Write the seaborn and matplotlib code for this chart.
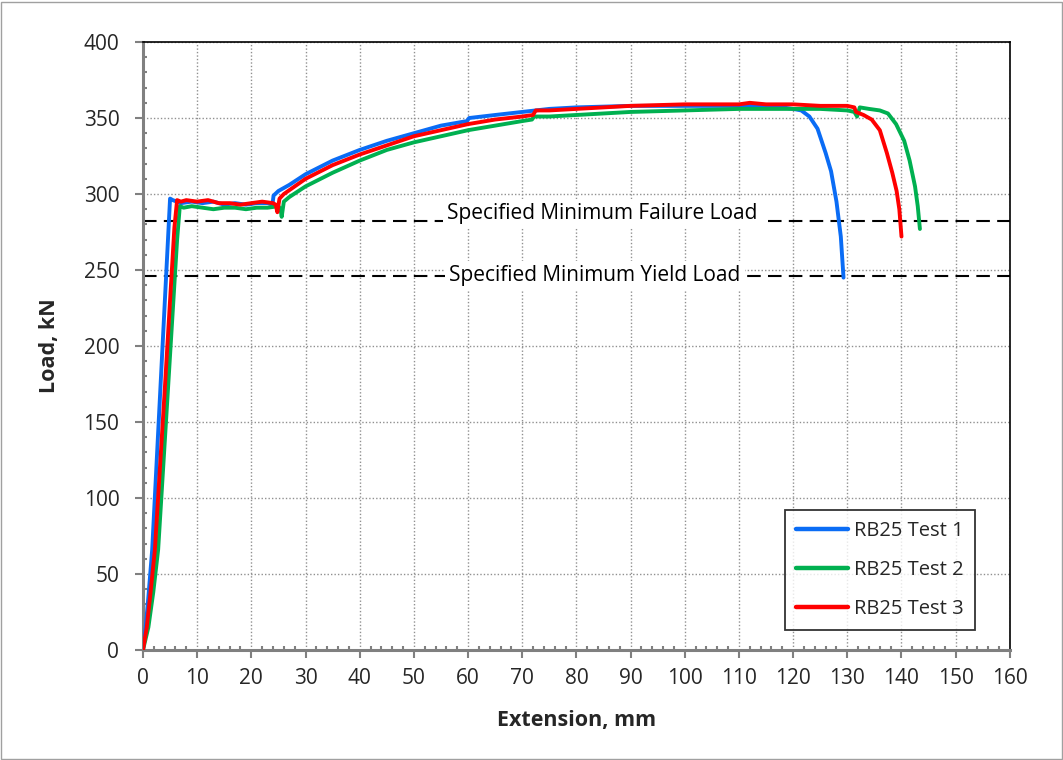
import numpy as np
import pandas as pd
import matplotlib
matplotlib.use("Agg")
import matplotlib.pyplot as plt
import seaborn as sns
from matplotlib.ticker import MultipleLocator
from matplotlib.patches import Rectangle

# ---------------- data ----------------
series_names = ["RB25 Test 1", "RB25 Test 2", "RB25 Test 3"]

t1_x = [0, 0.5, 1, 1.7, 3, 4.5, 5.0, 5.5, 7, 9, 11, 13, 15, 17, 19, 21, 23, 23.9, 24.1, 25, 27, 30, 35, 40,
        45, 50, 55, 59.8, 60.2, 65, 70, 75, 80, 90, 100, 110, 115, 118, 120, 121.5, 123, 124.5, 126, 127,
        128, 128.8, 129.3]
t1_y = [0, 15, 35, 66, 157, 262, 297, 296, 294, 295, 294, 295, 293, 294, 293, 294, 294, 293, 299, 302, 306,
        313, 322, 329, 335, 340, 345, 348, 350, 352, 354, 356, 357, 358, 358, 358, 358, 357, 356, 355, 351,
        343, 327, 315, 295, 272, 245]

t2_x = [0, 1, 1.9, 2.8, 4.5, 6.3, 6.8, 7.5, 9, 11, 13, 15, 17, 19, 21, 23, 25, 25.4, 25.6, 26, 27, 30, 35,
        40, 45, 50, 55, 60, 65, 70, 71.8, 72.2, 75, 80, 90, 100, 110, 120, 125, 130, 131.3, 131.8, 132.3,
        134, 136, 137.5, 139, 140.5, 141.5, 142.5, 143, 143.4]
t2_y = [0, 15, 38, 66, 165, 270, 292, 291, 292, 291, 290, 291, 291, 290, 291, 291, 292, 290, 285, 295, 298,
        305, 314, 322, 329, 334, 338, 342, 345, 348, 349, 351, 351, 352, 354, 355, 356, 356, 356, 355, 354,
        351, 357, 356, 355, 353, 346, 335, 322, 305, 292, 277]

t3_x = [0, 0.7, 1.4, 2.2, 4, 5.8, 6.3, 7, 8, 10, 12, 14, 16, 18, 20, 22, 24, 24.5, 24.8, 25.2, 26, 28, 30,
        35, 40, 45, 50, 55, 60, 65, 70, 72, 72.5, 75, 80, 90, 100, 110, 112, 115, 120, 125, 130, 131.3,
        131.6, 133, 134.5, 136, 137.3, 138.3, 139.1, 139.6, 140]
t3_y = [0, 15, 38, 66, 170, 278, 296, 295, 296, 295, 296, 294, 294, 293, 294, 295, 294, 293, 288, 297, 300,
        305, 310, 319, 326, 332, 338, 342, 346, 349, 351, 352, 355, 355, 356, 358, 359, 359, 360, 359, 359,
        358, 358, 357, 354, 352, 349, 342, 327, 314, 302, 290, 272]

failure_load = 282
yield_load = 246
ref_labels = ["Specified Minimum Failure Load", "Specified Minimum Yield Load"]

colors = ["#0A6CF5", "#00B050", "#FF0000"]

# ---------------- build long-form frame ----------------
frames = []
for name, xs, ys in zip(series_names, [t1_x, t2_x, t3_x], [t1_y, t2_y, t3_y]):
    frames.append(pd.DataFrame({"Extension": xs, "Load": ys, "Series": name}))
df = pd.concat(frames, ignore_index=True)

sns.set_theme(style="white")
plt.rcParams["font.family"] = ["Open Sans", "DejaVu Sans"]

fig = plt.figure(figsize=(10.63, 7.6), dpi=100)
ax = fig.add_axes([0.1345, 0.1447, 0.8155, 0.8000])

# outer chart border
fig.patches.append(Rectangle((0.001, 0.001), 0.998, 0.997, transform=fig.transFigure,
                             fill=False, edgecolor="#A0A0A0", linewidth=1.0))

# reference lines
ax.axhline(failure_load, color="black", lw=1.5, ls=(0, (6.5, 3.5)), zorder=2)
ax.axhline(yield_load, color="black", lw=1.5, ls=(0, (6.5, 3.5)), zorder=2)

sns.lineplot(data=df, x="Extension", y="Load", hue="Series", palette=colors, sort=False,
             estimator=None, units="Series", lw=2.8, ax=ax, zorder=5)

ax.text(84.7, 287.0, ref_labels[0], ha="center", va="center", fontsize=15, color="black",
        bbox=dict(facecolor="white", edgecolor="none", pad=3), zorder=3)
ax.text(83.4, 246.5, ref_labels[1], ha="center", va="center", fontsize=15, color="black",
        bbox=dict(facecolor="white", edgecolor="none", pad=3), zorder=3)

ax.set_xlim(0, 160)
ax.set_ylim(0, 400)
ax.xaxis.set_major_locator(MultipleLocator(10))
ax.xaxis.set_minor_locator(MultipleLocator(2))
ax.yaxis.set_major_locator(MultipleLocator(50))
ax.yaxis.set_minor_locator(MultipleLocator(10))

ax.grid(True, which="major", color="#909090", ls=(0, (1, 1.5)), lw=1.0)
ax.set_axisbelow(True)

ax.tick_params(axis="both", which="major", direction="out", length=6, width=1.5, color="#808080",
               labelsize=15, bottom=True, left=True)
ax.tick_params(axis="x", which="major", pad=7)
ax.tick_params(axis="y", which="major", pad=11)
ax.tick_params(axis="both", which="minor", direction="in", length=3, width=1.5, color="#808080",
               bottom=True, left=True)

for side in ["left", "bottom"]:
    ax.spines[side].set_color("#808080")
    ax.spines[side].set_linewidth(2.2)
for side in ["top", "right"]:
    ax.spines[side].set_color("black")
    ax.spines[side].set_linewidth(1.2)

ax.set_xlabel("Extension, mm", fontsize=15.5, fontweight="bold", labelpad=15)
ax.set_ylabel("Load, kN", fontsize=15.5, fontweight="bold", labelpad=17)

leg = ax.legend(loc="lower right", bbox_to_anchor=(0.9597, 0.033), borderaxespad=0, fontsize=14.5,
                frameon=True, fancybox=False, edgecolor="black", handlelength=2.6, labelspacing=0.95,
                borderpad=0.55, handletextpad=0.3)
leg.get_frame().set_linewidth(1.3)
for h in leg.get_lines():
    h.set_linewidth(3.2)

fig.savefig("out.png", dpi=100)
